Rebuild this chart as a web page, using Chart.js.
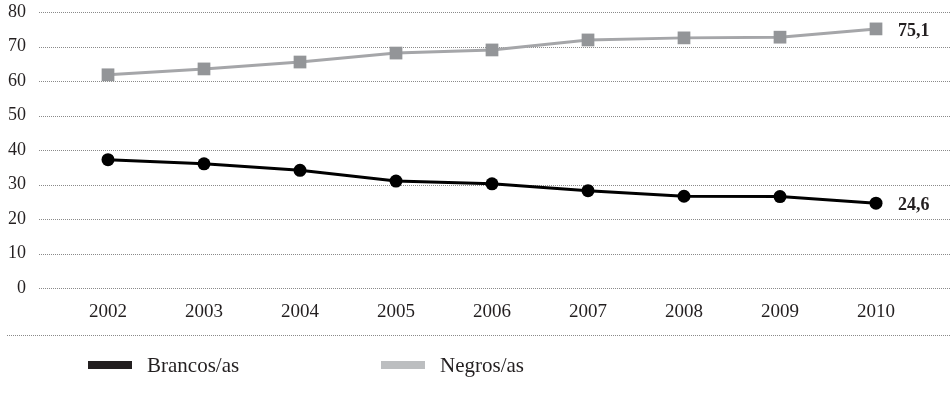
<!DOCTYPE html>
<html>
<head>
<meta charset="utf-8">
<script src="https://cdn.jsdelivr.net/npm/chart.js@4/dist/chart.umd.min.js"></script>
<style>
  html, body { margin: 0; padding: 0; background: #fff; }
  #wrap { width: 951px; height: 393px; }
</style>
</head>
<body>
<div id="wrap"><canvas id="c" width="951" height="393"></canvas></div>
<script>
// Anos da série
const years = ['2002', '2003', '2004', '2005', '2006', '2007', '2008', '2009', '2010'];
// Percentuais por cor/raça
const brancos = [37.2, 36.0, 34.1, 31.0, 30.2, 28.2, 26.6, 26.5, 24.6];
const negros = [61.8, 63.5, 65.5, 68.1, 69.0, 71.9, 72.5, 72.7, 75.1];
const seriesNames = ['Brancos/as', 'Negros/as'];
// Marcas do eixo vertical
const yTicks = [0, 10, 20, 30, 40, 50, 60, 70, 80];

const FONT = "'Liberation Serif', 'DejaVu Serif', serif";
const TEXT = '#231f20';

// Linhas de grade pontilhadas, que atravessam toda a largura
const dottedGrid = {
  id: 'dottedGrid',
  beforeDatasetsDraw(chart) {
    const ctx = chart.ctx;
    const y = chart.scales.y;
    ctx.save();
    ctx.strokeStyle = '#8a8a8a';
    ctx.lineWidth = 1;
    ctx.setLineDash([1, 1]);
    const line = (x0, py) => {
      ctx.beginPath();
      ctx.moveTo(x0, py);
      ctx.lineTo(chart.width, py);
      ctx.stroke();
    };
    yTicks.forEach(v => line(39, Math.round(y.getPixelForValue(v)) + 0.5));
    line(7, 335.5); // separador entre os anos e a legenda
    ctx.restore();
  }
};

// Valor do último ano ao lado de cada série
const endLabels = {
  id: 'endLabels',
  afterDatasetsDraw(chart) {
    const ctx = chart.ctx;
    ctx.save();
    ctx.font = 'bold 18px ' + FONT;
    ctx.fillStyle = TEXT;
    ctx.textAlign = 'left';
    ctx.textBaseline = 'middle';
    chart.data.datasets.forEach((ds, i) => {
      const meta = chart.getDatasetMeta(i);
      const last = meta.data[meta.data.length - 1];
      const v = ds.data[ds.data.length - 1];
      ctx.fillText(v.toFixed(1).replace('.', ','), last.x + 22, last.y + 2);
    });
    ctx.restore();
  }
};

// Legenda com amostras em barra
const barLegend = {
  id: 'barLegend',
  afterDraw(chart, args, opts) {
    const ctx = chart.ctx;
    ctx.save();
    ctx.font = '21px ' + FONT;
    ctx.textBaseline = 'middle';
    ctx.textAlign = 'left';
    chart.data.datasets.forEach((ds, i) => {
      const x = opts.starts[i];
      ctx.fillStyle = opts.colors[i];
      ctx.fillRect(x, opts.y - 4, 44, 8);
      ctx.fillStyle = TEXT;
      ctx.fillText(ds.label, x + 59, opts.y + 1);
    });
    ctx.restore();
  }
};

new Chart(document.getElementById('c'), {
  type: 'line',
  data: {
    labels: years,
    datasets: [
      {
        label: seriesNames[0],
        data: brancos,
        borderColor: '#000000',
        borderWidth: 3,
        pointStyle: 'circle',
        pointRadius: 6.5,
        pointBackgroundColor: '#000000',
        pointBorderWidth: 0,
        tension: 0
      },
      {
        label: seriesNames[1],
        data: negros,
        borderColor: '#a5a6a9',
        borderWidth: 3,
        pointStyle: 'rect',
        pointRadius: 9,
        pointBackgroundColor: '#939598',
        pointBorderWidth: 0,
        tension: 0
      }
    ]
  },
  options: {
    responsive: false,
    animation: false,
    devicePixelRatio: 1,
    layout: { padding: { top: 12, right: 27, bottom: 65, left: 0 } },
    plugins: {
      legend: { display: false },
      tooltip: { enabled: false },
      barLegend: { starts: [88, 381], colors: ['#231f20', '#bcbec0'], y: 365 }
    },
    scales: {
      x: {
        type: 'category',
        offset: true,
        grid: { display: false, drawTicks: false },
        border: { display: false },
        ticks: { color: TEXT, font: { family: FONT, size: 19 }, padding: 13 },
        afterFit(s) { s.height = 40; }
      },
      y: {
        min: 0,
        max: 80,
        afterBuildTicks(s) { s.ticks = yTicks.map(v => ({ value: v })); },
        grid: { display: false, drawTicks: false },
        border: { display: false },
        ticks: { color: TEXT, font: { family: FONT, size: 18 }, padding: 34 },
        afterFit(s) {
          s.width = 60;
          s.paddingTop = 0;
          s.paddingBottom = 0;
        }
      }
    }
  },
  plugins: [dottedGrid, endLabels, barLegend]
});
</script>
</body>
</html>
